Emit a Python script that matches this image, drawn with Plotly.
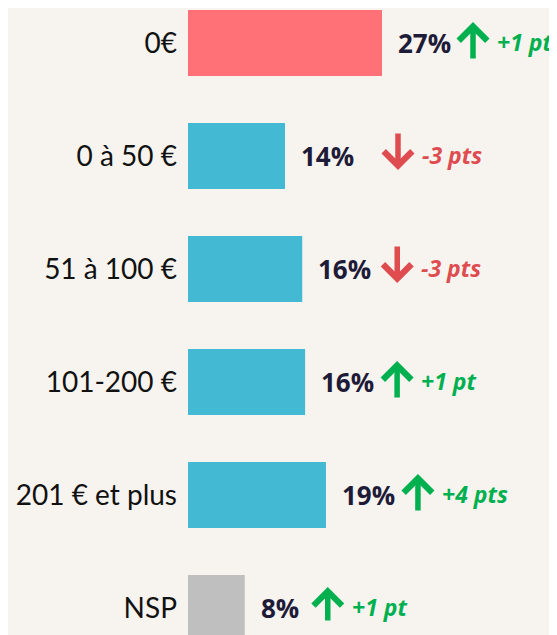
import plotly.graph_objects as go

categories = ["0€", "0 à 50 €", "51 à 100 €", "101-200 €", "201 € et plus", "NSP"]
values = [27, 13.5, 15.9, 16.3, 19.2, 7.9]
pct_labels = ["27%", "14%", "16%", "16%", "19%", "8%"]
change_labels = ["+1 pt", "-3 pts", "-3 pts", "+1 pt", "+4 pts", "+1 pt"]
change_dir = ["up", "down", "down", "up", "up", "up"]

bar_colors = ["#FF7177", "#43B9D3", "#43B9D3", "#43B9D3", "#43B9D3", "#BFBFBF"]
GREEN = "#00B04F"
RED = "#DE4C4F"
BG = "#F7F4EF"
# pixel offsets (styling) of the arrow centre from the bar end
arrow_shift = [91, 113, 95, 92, 92, 83]

fig = go.Figure(go.Bar(
    x=values, y=categories, orientation="h",
    marker=dict(color=bar_colors, line=dict(width=0)),
    width=0.584, hoverinfo="skip",
))

ann = []
for i, cat in enumerate(categories):
    v = values[i]
    ann.append(dict(x=v, y=cat, xref="x", yref="y", text=pct_labels[i],
                    showarrow=False, xanchor="left", yanchor="middle", xshift=14,
                    font=dict(family="Open Sans", size=26, color="#1E1B38", weight=700)))
    up = change_dir[i] == "up"
    col = GREEN if up else RED
    ann.append(dict(x=v, y=cat, xref="x", yref="y", text="",
                    showarrow=True, ax=0, ay=(38 if up else -38), axref="pixel", ayref="pixel",
                    xshift=arrow_shift[i], yshift=(21 if up else -14),
                    arrowhead=4, arrowsize=1.0, arrowwidth=5.5, arrowcolor=col,
                    standoff=0, startstandoff=0))
    ann.append(dict(x=v, y=cat, xref="x", yref="y", text="<i>" + change_labels[i] + "</i>",
                    showarrow=False, xanchor="left", yanchor="middle",
                    xshift=arrow_shift[i] + 22, yshift=1,
                    font=dict(family="Open Sans", size=23, color=col, weight=700)))

fig.update_layout(
    width=557, height=635,
    margin=dict(l=180, r=0, t=0, b=0),
    paper_bgcolor=BG, plot_bgcolor=BG,
    showlegend=False,
    annotations=ann,
    xaxis=dict(range=[0, 52.47], visible=False, fixedrange=True),
    yaxis=dict(range=[5.310, -0.310], showgrid=False, zeroline=False, showline=False,
               ticks="", ticklabelstandoff=10,
               tickfont=dict(family="Lato", size=28, color="#111111")),
)

fig.write_html("out.html")
